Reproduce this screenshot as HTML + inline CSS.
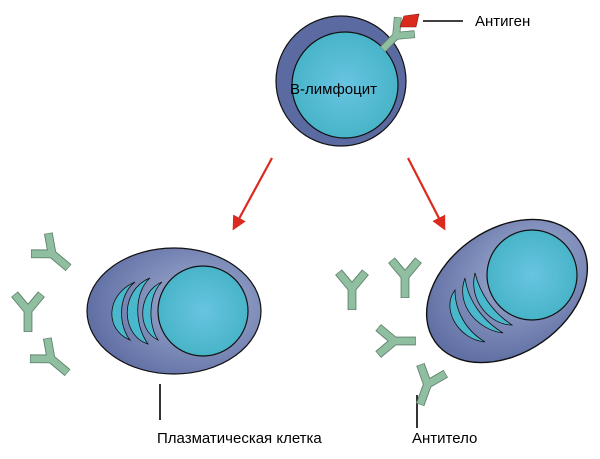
<!DOCTYPE html>
<html><head><meta charset="utf-8"><style>
html,body{margin:0;padding:0;background:#fff;}
svg{display:block;}
text{font-family:"Liberation Sans",sans-serif;font-size:15px;fill:#000;}
</style></head><body>
<svg width="600" height="459" viewBox="0 0 600 459" xmlns="http://www.w3.org/2000/svg">
<defs>
<radialGradient id="cyt" cx="0.65" cy="0.45" r="0.7">
<stop offset="0" stop-color="#a3b0d4"/><stop offset="1" stop-color="#5b6aa0"/>
</radialGradient>
<radialGradient id="nuc" cx="0.5" cy="0.5" r="0.5">
<stop offset="0" stop-color="#68c4e2"/><stop offset="1" stop-color="#48b4c8"/>
</radialGradient>
<g id="ab">
<path d="M0,1 L0,17 M0,1 L-10,-11 M0,1 L10,-11" fill="none" stroke="#5e7f6a" stroke-width="6.5" stroke-linejoin="miter" stroke-linecap="butt"/>
<path d="M0,1 L0,16.6 M0,1 L-9.7,-10.6 M0,1 L9.7,-10.6" fill="none" stroke="#8fbea0" stroke-width="5.2" stroke-linejoin="miter" stroke-linecap="butt"/>
</g>
<marker id="ar" viewBox="0 0 10 10" refX="8" refY="5" markerWidth="6.5" markerHeight="6.5" orient="auto">
<path d="M0,0 L10,5 L0,10 Z" fill="#dd2a1e"/>
</marker>
</defs>

<!-- B cell -->
<circle cx="341" cy="81" r="65" fill="#5b6aa0" stroke="#111" stroke-width="1.2"/>
<circle cx="345" cy="85" r="53" fill="url(#nuc)" stroke="#111" stroke-width="1.2"/>
<g transform="translate(397,35) rotate(45) scale(1.2)"><use href="#ab"/></g>
<text x="290" y="94" font-size="17">В-лимфоцит</text>
<path d="M404,16 L419,14 L416,27 L400,27 Z" fill="#dd2a1e" stroke="#7a1a10" stroke-width="0.6"/>
<line x1="423" y1="21" x2="463" y2="21" stroke="#000" stroke-width="1.6"/>
<text x="475" y="26">Антиген</text>

<!-- arrows -->
<line x1="272" y1="158" x2="234" y2="228" stroke="#dd2a1e" stroke-width="2.2" marker-end="url(#ar)"/>
<line x1="408" y1="158" x2="444" y2="228" stroke="#dd2a1e" stroke-width="2.2" marker-end="url(#ar)"/>

<!-- left plasma cell -->
<ellipse cx="174" cy="311" rx="87" ry="63" fill="url(#cyt)" stroke="#111" stroke-width="1.2"/>
<g fill="#4ab8cc" stroke="#111" stroke-width="0.8">
<path d="M135,282 C105,295 105,330 130,340 C118,325 118,295 135,282 Z"/>
<path d="M150,278 C120,290 120,335 148,344 C134,325 134,292 150,278 Z"/>
<path d="M162,282 C138,292 136,330 158,340 C148,325 148,295 162,282 Z"/>
</g>
<circle cx="203" cy="311" r="45" fill="url(#nuc)" stroke="#111" stroke-width="1.2"/>
<line x1="160" y1="384" x2="160" y2="420" stroke="#000" stroke-width="1.6"/>
<text x="157" y="443" font-size="15.5">Плазматическая клетка</text>

<!-- right plasma cell -->
<ellipse cx="507" cy="291" rx="88" ry="62" transform="rotate(-35 507 291)" fill="url(#cyt)" stroke="#111" stroke-width="1.4"/>
<g fill="#4ab8cc" stroke="#111" stroke-width="0.8">
<path d="M455,290 C440,310 460,340 485,342 C465,330 455,310 455,290 Z"/>
<path d="M465,278 C455,305 478,330 503,333 C482,320 468,300 465,278 Z"/>
<path d="M475,273 C468,300 490,325 512,325 C492,312 480,293 475,273 Z"/>
</g>
<circle cx="532" cy="275" r="45" fill="url(#nuc)" stroke="#111" stroke-width="1.2"/>
<line x1="417" y1="395" x2="417" y2="428" stroke="#000" stroke-width="1.6"/>
<text x="412" y="443" font-size="15.5">Антитело</text>

<!-- free antibodies -->
<g transform="translate(51,253) rotate(-50) scale(1.35)"><use href="#ab"/></g>
<g transform="translate(28,309) scale(1.35)"><use href="#ab"/></g>
<g transform="translate(50,358) rotate(-50) scale(1.35)"><use href="#ab"/></g>
<g transform="translate(352,287) scale(1.35)"><use href="#ab"/></g>
<g transform="translate(405,275) scale(1.35)"><use href="#ab"/></g>
<g transform="translate(393,341) rotate(-90) scale(1.35)"><use href="#ab"/></g>
<g transform="translate(428,383) rotate(20) scale(1.35)"><use href="#ab"/></g>
</svg>
</body></html>
